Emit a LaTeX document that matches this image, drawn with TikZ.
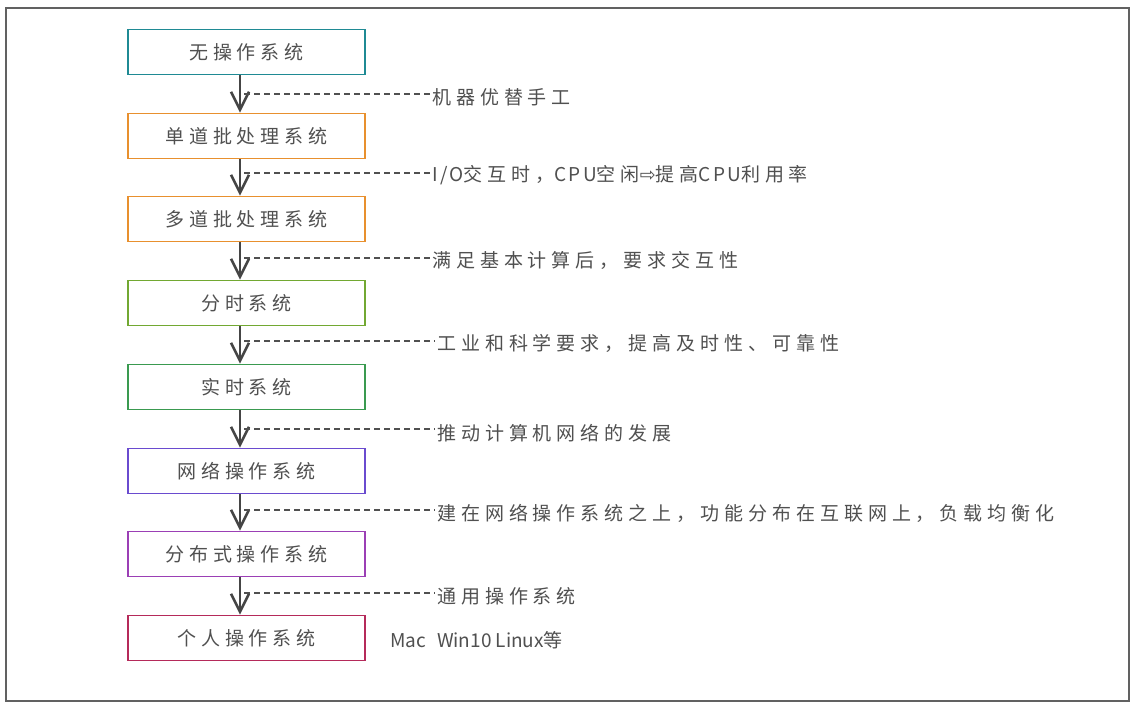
\documentclass[tikz,border=0pt]{standalone}
\usepackage{fontspec}
\usetikzlibrary{arrows.meta}
\newfontfamily\cjk{Noto Sans CJK SC}[LetterSpace=26]
\newfontfamily\cjklat{Noto Sans CJK SC}[LetterSpace=12]
\newfontfamily\cjkplain{Noto Sans CJK SC}
\newfontfamily\symfont{DejaVu Sans}
\newcommand{\lat}[1]{{\cjklat #1}}
\definecolor{cTeal}{HTML}{1F8A94}
\definecolor{cOrange}{HTML}{E8902E}
\definecolor{cLime}{HTML}{72A832}
\definecolor{cGreen}{HTML}{3A9A50}
\definecolor{cIndigo}{HTML}{6A4BCF}
\definecolor{cPurple}{HTML}{9B3FB5}
\definecolor{cCrimson}{HTML}{B52A5A}
\definecolor{cInk}{HTML}{505050}
\definecolor{cArrow}{HTML}{454545}
\tikzset{
  sysbox/.style={draw, line width=1.9pt, minimum width=237pt, minimum height=45pt,
    inner sep=0pt, text=cInk, font=\cjk\fontsize{19}{22}\selectfont},
  lbl/.style={anchor=west, inner sep=0pt, text=cInk, font=\cjk\fontsize{19}{22}\selectfont},
  flow/.style={draw=cArrow, line width=2.7pt,
    -{Straight Barb[length=18pt,width=18pt,line width=2.5pt]}},
  dashline/.style={draw=cInk, line width=1.2pt, dash pattern=on 6pt off 4pt},
  frame/.style={draw=cInk!90, line width=1.3pt}
}
\begin{document}
\begin{tikzpicture}[x=1pt,y=-1pt]
\useasboundingbox (0,0) rectangle (1135,708);
\fill[white] (0,0) rectangle (1135,708);
\draw[frame] (6,8) rectangle (1129,701);

\node[sysbox, draw=cTeal]    (b1) at (246.5,52)  {无操作系统};
\node[sysbox, draw=cOrange]  (b2) at (246.5,136) {单道批处理系统};
\node[sysbox, draw=cOrange]  (b3) at (246.5,219) {多道批处理系统};
\node[sysbox, draw=cLime]    (b4) at (246.5,303) {分时系统};
\node[sysbox, draw=cGreen]   (b5) at (246.5,387) {实时系统};
\node[sysbox, draw=cIndigo]  (b6) at (246.5,471) {网络操作系统};
\node[sysbox, draw=cPurple]  (b7) at (246.5,554) {分布式操作系统};
\node[sysbox, draw=cCrimson] (b8) at (246.5,638) {个人操作系统};

\foreach \a/\b in {b1/b2,b2/b3,b3/b4,b4/b5,b5/b6,b6/b7,b7/b8}{
  \draw[flow] ([xshift=-6.5pt]\a.south) -- ([xshift=-6.5pt]\b.north);
}

\node[lbl] (l1) at (432,97)  {机器优替手工};
\node[lbl] (l2) at (432,175) {\lat{I/O}交互时，\lat{CPU}空闲{\symfont ⇨}提高\lat{CPU}利用率};
\node[lbl] (l3) at (432,260) {满足基本计算后，要求交互性};
\node[lbl] (l4) at (437,343) {工业和科学要求，提高及时性、可靠性};
\node[lbl] (l5) at (437,433) {推动计算机网络的发展};
\node[lbl] (l6) at (437,513) {建在网络操作系统之上，功能分布在互联网上，负载均衡化};
\node[lbl] (l7) at (437,596) {通用操作系统};
\node[lbl] (l8) at (390,640) {{\cjkplain Mac\hspace{11pt}Win10 Linux等}};

\coordinate (d1) at (244,94);
\coordinate (d2) at (244,173);
\coordinate (d3) at (244,258);
\coordinate (d4) at (244,341);
\coordinate (d5) at (244,429);
\coordinate (d6) at (244,510);
\coordinate (d7) at (244,593);
\foreach \i in {1,...,7}{
  \draw[dashline] (d\i) -- ([xshift=-2pt]d\i -| l\i.west);
}
\end{tikzpicture}
\end{document}
